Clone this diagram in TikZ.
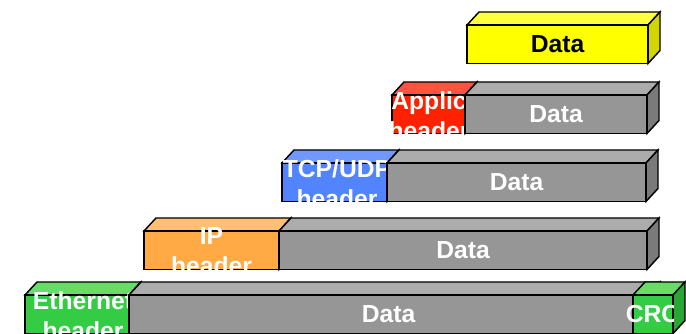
\documentclass[tikz,border=0pt]{standalone}
\usepackage{fontspec}
\setmainfont{Liberation Sans}

\definecolor{yelF}{RGB}{255,255,0}
\definecolor{yelT}{RGB}{255,255,64}
\definecolor{yelS}{RGB}{212,212,0}
\definecolor{grayF}{RGB}{150,150,150}
\definecolor{grayT}{RGB}{172,172,172}
\definecolor{grayS}{RGB}{122,122,122}
\definecolor{redF}{RGB}{255,34,0}
\definecolor{redT}{RGB}{255,82,66}
\definecolor{redS}{RGB}{204,28,0}
\definecolor{bluF}{RGB}{82,132,255}
\definecolor{bluT}{RGB}{112,152,255}
\definecolor{bluS}{RGB}{64,104,204}
\definecolor{oraF}{RGB}{255,170,68}
\definecolor{oraT}{RGB}{255,192,116}
\definecolor{oraS}{RGB}{204,136,54}
\definecolor{grnF}{RGB}{52,204,68}
\definecolor{grnT}{RGB}{104,220,104}
\definecolor{grnS}{RGB}{42,166,54}

% box with top and side face: left x, right x, top of front, colour
\newcommand{\brick}[4]{%
  \filldraw[fill=#4T] (#1,#3) -- (#1+12,#3-13) -- (#2+12,#3-13) -- (#2,#3) -- cycle;
  \filldraw[fill=#4S] (#2,#3) -- (#2+12,#3-13) -- (#2+12,#3+25.5) -- (#2,#3+38.5) -- cycle;
  \filldraw[fill=#4F] (#1,#3) rectangle (#2,#3+38.5);
}

\begin{document}
\begin{tikzpicture}[x=0.75pt, y=-0.75pt, line width=1.1pt,
  lbl/.style={font=\bfseries\fontsize{18.5}{20}\selectfont, text=white, inner sep=0pt, anchor=base},
  mid/.style={lbl, anchor=center}]
  \clip (0,0) rectangle (686,334);

  % application data
  \brick{467}{648}{25}{yel}
  \node[mid, text=black] (data1) at (557.5,44.25) {Data};

  % application header
  \brick{392}{465}{95}{red}
  \begin{scope}
    \clip (0,0) rectangle (686,133.5);
    \node[lbl] (app1) at (429,110) {Applic};
    \node[lbl] (app2) at (429,140) {header};
  \end{scope}
  \brick{465}{647}{95}{gray}
  \node[mid] (data2) at (556,114.25) {Data};

  % transport
  \brick{282}{387}{163}{blu}
  \begin{scope}
    \clip (0,0) rectangle (686,201.5);
    \node[lbl] (tcp1) at (337,178) {TCP/UDP};
    \node[lbl] (tcp2) at (337,208) {header};
  \end{scope}
  \brick{387}{646}{163}{gray}
  \node[mid] (data3) at (516.5,182.25) {Data};

  % network
  \brick{144}{279}{231}{ora}
  \begin{scope}
    \clip (0,0) rectangle (686,269.5);
    \node[lbl] (ip1) at (211.5,245) {IP};
    \node[lbl] (ip2) at (211.5,275) {header};
  \end{scope}
  \brick{279}{647}{231}{gray}
  \node[mid] (data4) at (463,250.25) {Data};

  % link
  \brick{25}{129}{295}{grn}
  \node[lbl] (eth1) at (83,310) {Ethernet};
  \node[lbl] (eth2) at (83,340) {header};
  \brick{129}{648}{295}{gray}
  \node[mid] (data5) at (388.5,314.25) {Data};
  \brick{633}{673}{295}{grn}
  \begin{scope}
    \clip (0,0) rectangle (673,334);
    \node[mid] (crc) at (652.5,314.25) {CRC};
  \end{scope}
\end{tikzpicture}
\end{document}
